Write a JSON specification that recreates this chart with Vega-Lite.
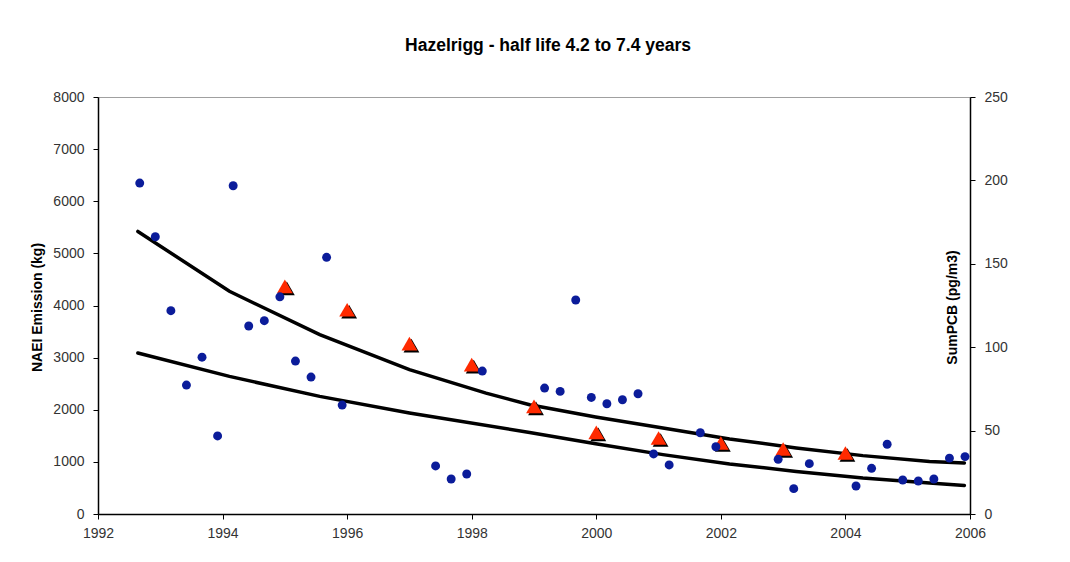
{
  "$schema": "https://vega.github.io/schema/vega-lite/v6.json",
  "autosize": "none",
  "width": 872,
  "height": 417,
  "padding": {"left": 98, "top": 97, "right": 100, "bottom": 48},
  "background": "white",
  "title": {
    "text": "Hazelrigg - half life 4.2 to 7.4 years",
    "font": "Liberation Sans",
    "fontSize": 17.5,
    "fontWeight": "bold",
    "color": "black",
    "anchor": "middle",
    "offset": 36,
    "dx": 14
  },
  "config": {
    "view": {"stroke": "#a0a0a0", "strokeWidth": 1},
    "axis": {
      "grid": false,
      "labelFont": "Liberation Sans",
      "labelFontSize": 14,
      "labelColor": "#333333",
      "titleFont": "Liberation Sans",
      "titleFontSize": 14,
      "titleFontWeight": "bold",
      "titleColor": "black",
      "domainColor": "black",
      "domainWidth": 1.5,
      "tickColor": "black",
      "tickWidth": 1,
      "tickSize": 5
    }
  },
  "datasets": {
    "pcb": [
      {"year": 1992.67, "pcb": 198.4},
      {"year": 1992.92, "pcb": 166.2},
      {"year": 1993.17, "pcb": 121.9},
      {"year": 1993.42, "pcb": 77.3},
      {"year": 1993.67, "pcb": 94.0},
      {"year": 1993.92, "pcb": 46.8},
      {"year": 1994.17, "pcb": 196.8},
      {"year": 1994.42, "pcb": 112.7},
      {"year": 1994.67, "pcb": 115.9},
      {"year": 1994.92, "pcb": 130.2},
      {"year": 1995.17, "pcb": 91.7},
      {"year": 1995.42, "pcb": 82.1},
      {"year": 1995.67, "pcb": 153.9},
      {"year": 1995.92, "pcb": 65.3},
      {"year": 1997.42, "pcb": 28.8},
      {"year": 1997.67, "pcb": 21.0},
      {"year": 1997.92, "pcb": 24.0},
      {"year": 1998.17, "pcb": 85.7},
      {"year": 1999.17, "pcb": 75.5},
      {"year": 1999.42, "pcb": 73.5},
      {"year": 1999.67, "pcb": 128.3},
      {"year": 1999.92, "pcb": 69.9},
      {"year": 2000.17, "pcb": 66.1},
      {"year": 2000.42, "pcb": 68.5},
      {"year": 2000.67, "pcb": 72.1},
      {"year": 2000.92, "pcb": 36.0},
      {"year": 2001.17, "pcb": 29.4},
      {"year": 2001.67, "pcb": 48.7},
      {"year": 2001.92, "pcb": 40.3},
      {"year": 2002.92, "pcb": 32.8},
      {"year": 2003.17, "pcb": 15.2},
      {"year": 2003.42, "pcb": 30.2},
      {"year": 2004.17, "pcb": 16.8},
      {"year": 2004.42, "pcb": 27.4},
      {"year": 2004.67, "pcb": 41.8},
      {"year": 2004.92, "pcb": 20.4},
      {"year": 2005.17, "pcb": 19.8},
      {"year": 2005.42, "pcb": 21.0},
      {"year": 2005.67, "pcb": 33.5},
      {"year": 2005.92, "pcb": 34.4}
    ],
    "naei": [
      {"year": 1995, "kg": 4366},
      {"year": 1996, "kg": 3919},
      {"year": 1997, "kg": 3267},
      {"year": 1998, "kg": 2864},
      {"year": 1999, "kg": 2064},
      {"year": 2000, "kg": 1566},
      {"year": 2001, "kg": 1458},
      {"year": 2002, "kg": 1362},
      {"year": 2003, "kg": 1247},
      {"year": 2004, "kg": 1170}
    ],
    "fit": [
      {"curve": "upper", "year": 1992.64, "pcb": 169.4},
      {"curve": "upper", "year": 1994.11, "pcb": 133.5},
      {"curve": "upper", "year": 1995.56, "pcb": 107.5},
      {"curve": "upper", "year": 1997.0, "pcb": 86.5},
      {"curve": "upper", "year": 1998.23, "pcb": 72.5},
      {"curve": "upper", "year": 1998.93, "pcb": 65.5},
      {"curve": "upper", "year": 1999.99, "pcb": 58.2},
      {"curve": "upper", "year": 2001.07, "pcb": 51.6},
      {"curve": "upper", "year": 2002.14, "pcb": 45.0},
      {"curve": "upper", "year": 2003.21, "pcb": 39.6},
      {"curve": "upper", "year": 2004.28, "pcb": 35.0},
      {"curve": "upper", "year": 2005.35, "pcb": 31.5},
      {"curve": "upper", "year": 2005.91, "pcb": 30.6},
      {"curve": "lower", "year": 1992.64, "pcb": 96.5},
      {"curve": "lower", "year": 1994.11, "pcb": 82.5},
      {"curve": "lower", "year": 1995.56, "pcb": 70.5},
      {"curve": "lower", "year": 1997.0, "pcb": 60.6},
      {"curve": "lower", "year": 1998.93, "pcb": 48.9},
      {"curve": "lower", "year": 1999.99, "pcb": 42.1},
      {"curve": "lower", "year": 2001.07, "pcb": 35.6},
      {"curve": "lower", "year": 2002.14, "pcb": 30.0},
      {"curve": "lower", "year": 2003.21, "pcb": 25.5},
      {"curve": "lower", "year": 2004.28, "pcb": 21.6},
      {"curve": "lower", "year": 2005.35, "pcb": 18.6},
      {"curve": "lower", "year": 2005.91, "pcb": 17.1}
    ]
  },
  "encoding": {
    "x": {
      "field": "year",
      "type": "quantitative",
      "scale": {"domain": [1992, 2006], "nice": false, "zero": false},
      "axis": {
        "title": null,
        "values": [1992, 1994, 1996, 1998, 2000, 2002, 2004, 2006],
        "format": "d",
        "labelFlush": false,
        "labelPadding": 7
      }
    }
  },
  "layer": [
    {
      "data": {"name": "fit"},
      "mark": {"type": "line", "color": "black", "strokeWidth": 3.5, "strokeCap": "round"},
      "encoding": {
        "detail": {"field": "curve", "type": "nominal"},
        "y": {"field": "pcb", "type": "quantitative", "scale": {"domain": [0, 250], "nice": false}, "axis": null}
      }
    },
    {
      "data": {"name": "naei"},
      "mark": {"type": "point", "shape": "triangle-up", "filled": true, "color": "black", "opacity": 1, "size": 250, "xOffset": 2, "yOffset": 2},
      "encoding": {
        "y": {"field": "kg", "type": "quantitative", "scale": {"domain": [0, 8000], "nice": false}, "axis": null}
      }
    },
    {
      "data": {"name": "naei"},
      "mark": {"type": "point", "shape": "triangle-up", "filled": true, "color": "#ff2a00", "opacity": 1, "size": 250},
      "encoding": {
        "y": {
          "field": "kg",
          "type": "quantitative",
          "scale": {"domain": [0, 8000], "nice": false},
          "axis": {
            "orient": "left",
            "title": "NAEI Emission (kg)",
            "values": [0, 1000, 2000, 3000, 4000, 5000, 6000, 7000, 8000],
            "format": "d",
            "labelPadding": 9,
            "titleBaseline": "middle",
            "titleX": -61,
            "titleY": 210,
            "titleAngle": 270
          }
        }
      }
    },
    {
      "data": {"name": "pcb"},
      "mark": {"type": "point", "shape": "circle", "filled": true, "color": "#0b1c9a", "opacity": 1, "size": 80},
      "encoding": {
        "y": {
          "field": "pcb",
          "type": "quantitative",
          "scale": {"domain": [0, 250], "nice": false},
          "axis": {
            "orient": "right",
            "title": "SumPCB (pg/m3)",
            "values": [0, 50, 100, 150, 200, 250],
            "format": "d",
            "labelPadding": 9,
            "titleBaseline": "middle",
            "titleX": -18,
            "titleY": 210,
            "titleAngle": 270
          }
        }
      }
    }
  ],
  "resolve": {"scale": {"y": "independent"}}
}
